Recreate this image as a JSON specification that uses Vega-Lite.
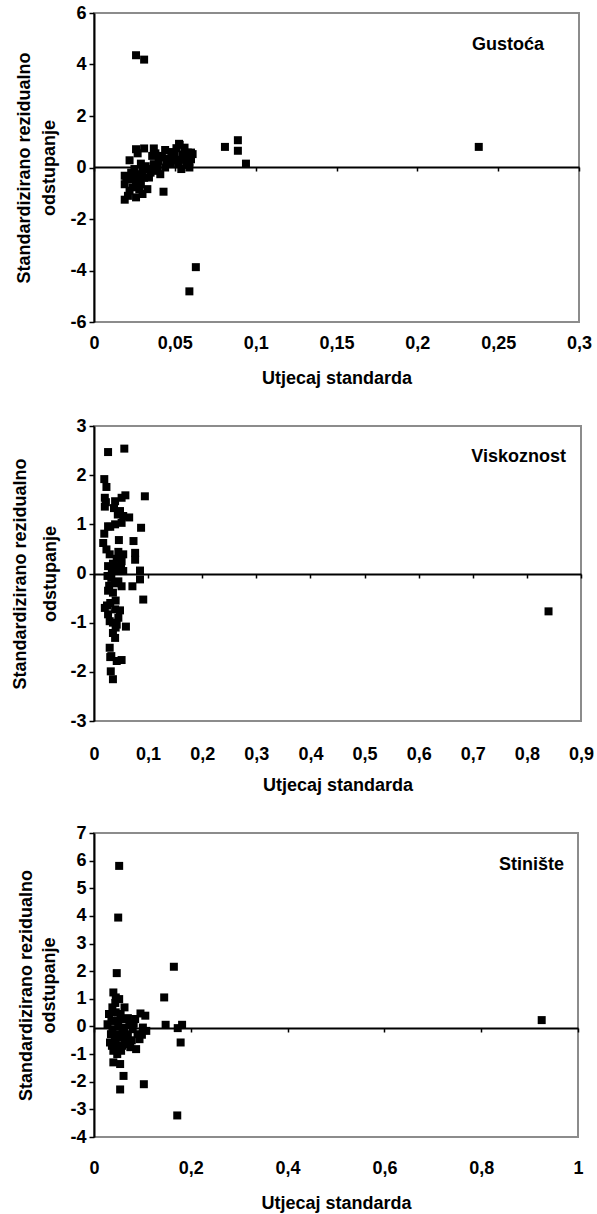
{
  "$schema": "https://vega.github.io/schema/vega-lite/v6.json",
  "background": "white",
  "padding": {"left": 10, "top": 3, "right": 2, "bottom": 2},
  "columns": 1,
  "align": "none",
  "spacing": 28,
  "config": {
    "locale": {"number": {"decimal": ",", "thousands": ".", "grouping": [3], "currency": ["", " €"], "minus": "-"}},
    "font": "Liberation Sans",
    "view": {"stroke": "#8c8c8c", "strokeWidth": 2},
    "axis": {
      "grid": false,
      "labelFont": "Liberation Sans", "labelFontWeight": "bold", "labelFontSize": 18, "labelColor": "black",
      "titleFont": "Liberation Sans", "titleFontWeight": "bold", "titleFontSize": 18, "titleColor": "black",
      "domainColor": "black", "domainWidth": 2, "tickColor": "black", "tickWidth": 1.5,
      "format": "~g", "labelFlush": false, "labelOverlap": false
    },
    "title": {"font": "Liberation Sans", "fontWeight": "bold", "fontSize": 18, "color": "black", "anchor": "end", "frame": "group"},
    "point": {"shape": "square", "filled": true, "color": "black", "size": 64, "opacity": 1}
  },
  "datasets": {
    "gustoca": [
      {"u": 0.026, "r": 4.36}, {"u": 0.031, "r": 4.19}, {"u": 0.081, "r": 0.8}, {"u": 0.089, "r": 1.06},
      {"u": 0.089, "r": 0.65}, {"u": 0.094, "r": 0.15}, {"u": 0.063, "r": -3.87}, {"u": 0.059, "r": -4.81},
      {"u": 0.043, "r": -0.94}, {"u": 0.019, "r": -1.25}, {"u": 0.238, "r": 0.8},
      {"u": 0.022, "r": 0.28}, {"u": 0.026, "r": 0.71}, {"u": 0.031, "r": 0.74}, {"u": 0.037, "r": 0.74},
      {"u": 0.044, "r": 0.68}, {"u": 0.053, "r": 0.88}, {"u": 0.056, "r": 0.77}, {"u": 0.06, "r": 0.58},
      {"u": 0.06, "r": 0.32}, {"u": 0.059, "r": 0.0}, {"u": 0.054, "r": -0.06}, {"u": 0.048, "r": 0.45},
      {"u": 0.05, "r": 0.28}, {"u": 0.047, "r": 0.13}, {"u": 0.044, "r": 0.0}, {"u": 0.04, "r": 0.26},
      {"u": 0.036, "r": 0.45}, {"u": 0.037, "r": 0.13}, {"u": 0.033, "r": -0.06}, {"u": 0.034, "r": -0.39},
      {"u": 0.03, "r": -0.13}, {"u": 0.027, "r": -0.26}, {"u": 0.026, "r": -0.58}, {"u": 0.024, "r": -0.77},
      {"u": 0.019, "r": -0.32}, {"u": 0.019, "r": -0.65}, {"u": 0.021, "r": -1.1}, {"u": 0.026, "r": -1.16},
      {"u": 0.03, "r": -1.03}, {"u": 0.033, "r": -0.84}, {"u": 0.037, "r": -0.13}, {"u": 0.039, "r": 0.0},
      {"u": 0.041, "r": -0.26}, {"u": 0.028, "r": -0.52}, {"u": 0.023, "r": -0.45}, {"u": 0.025, "r": -0.06},
      {"u": 0.029, "r": 0.15}, {"u": 0.042, "r": 0.39}, {"u": 0.05, "r": 0.49}, {"u": 0.052, "r": 0.13},
      {"u": 0.056, "r": 0.39}, {"u": 0.058, "r": 0.58}, {"u": 0.061, "r": 0.52}, {"u": 0.02, "r": -0.45},
      {"u": 0.022, "r": -0.9}, {"u": 0.025, "r": -0.35}, {"u": 0.028, "r": -0.85}, {"u": 0.031, "r": -0.4},
      {"u": 0.035, "r": -0.2}, {"u": 0.045, "r": 0.2}, {"u": 0.048, "r": 0.6}, {"u": 0.055, "r": 0.5},
      {"u": 0.057, "r": 0.1}, {"u": 0.051, "r": 0.75}, {"u": 0.046, "r": 0.35}, {"u": 0.032, "r": 0.05},
      {"u": 0.027, "r": 0.55}, {"u": 0.038, "r": 0.55}, {"u": 0.041, "r": 0.45}, {"u": 0.053, "r": 0.3},
      {"u": 0.059, "r": 0.2}, {"u": 0.023, "r": -0.2}, {"u": 0.029, "r": -0.65}, {"u": 0.0526, "r": 0.92}
    ],
    "viskoznost": [
      {"u": 0.026, "r": 2.47}, {"u": 0.056, "r": 2.54}, {"u": 0.019, "r": 1.92}, {"u": 0.023, "r": 1.76},
      {"u": 0.02, "r": 1.54}, {"u": 0.02, "r": 1.36}, {"u": 0.094, "r": 1.57}, {"u": 0.058, "r": 1.59},
      {"u": 0.051, "r": 1.54}, {"u": 0.039, "r": 1.47}, {"u": 0.037, "r": 1.33}, {"u": 0.048, "r": 1.27},
      {"u": 0.054, "r": 1.17}, {"u": 0.065, "r": 1.14}, {"u": 0.051, "r": 1.03}, {"u": 0.039, "r": 1.0},
      {"u": 0.026, "r": 0.96}, {"u": 0.019, "r": 0.81}, {"u": 0.087, "r": 0.93}, {"u": 0.046, "r": 0.68},
      {"u": 0.073, "r": 0.66}, {"u": 0.017, "r": 0.62}, {"u": 0.023, "r": 0.49}, {"u": 0.029, "r": 0.39},
      {"u": 0.045, "r": 0.44}, {"u": 0.054, "r": 0.39}, {"u": 0.076, "r": 0.42}, {"u": 0.076, "r": 0.28},
      {"u": 0.051, "r": 0.25}, {"u": 0.026, "r": 0.15}, {"u": 0.039, "r": 0.15}, {"u": 0.054, "r": 0.05},
      {"u": 0.085, "r": 0.06}, {"u": 0.085, "r": -0.12}, {"u": 0.032, "r": -0.09}, {"u": 0.045, "r": -0.16},
      {"u": 0.051, "r": -0.26}, {"u": 0.071, "r": -0.26}, {"u": 0.026, "r": -0.35}, {"u": 0.035, "r": -0.39},
      {"u": 0.091, "r": -0.53}, {"u": 0.02, "r": -0.7}, {"u": 0.039, "r": -0.73}, {"u": 0.048, "r": -0.75},
      {"u": 0.026, "r": -0.83}, {"u": 0.029, "r": -0.97}, {"u": 0.042, "r": -1.04}, {"u": 0.035, "r": -1.21},
      {"u": 0.039, "r": -1.31}, {"u": 0.059, "r": -1.08}, {"u": 0.029, "r": -1.51}, {"u": 0.032, "r": -1.68},
      {"u": 0.042, "r": -1.78}, {"u": 0.051, "r": -1.76}, {"u": 0.031, "r": -1.99}, {"u": 0.035, "r": -2.15},
      {"u": 0.84, "r": -0.77}, {"u": 0.03, "r": -0.6}, {"u": 0.04, "r": -0.55}, {"u": 0.035, "r": 0.2},
      {"u": 0.045, "r": 0.05}, {"u": 0.025, "r": -0.05}, {"u": 0.05, "r": 0.3}, {"u": 0.04, "r": -1.1},
      {"u": 0.035, "r": -1.0}, {"u": 0.03, "r": -1.7}, {"u": 0.045, "r": -0.9}, {"u": 0.03, "r": 0.95},
      {"u": 0.022, "r": 1.45}, {"u": 0.042, "r": 0.3}, {"u": 0.033, "r": 0.05}, {"u": 0.028, "r": -0.25},
      {"u": 0.038, "r": -0.2}, {"u": 0.024, "r": -0.65}, {"u": 0.044, "r": 1.2}, {"u": 0.05, "r": 0.12}
    ],
    "stiniste": [
      {"u": 0.052, "r": 5.81}, {"u": 0.05, "r": 3.94}, {"u": 0.047, "r": 1.93}, {"u": 0.165, "r": 2.16},
      {"u": 0.145, "r": 1.05}, {"u": 0.148, "r": 0.06}, {"u": 0.173, "r": -0.06}, {"u": 0.182, "r": 0.06},
      {"u": 0.179, "r": -0.58}, {"u": 0.172, "r": -3.22}, {"u": 0.103, "r": -2.09}, {"u": 0.061, "r": -1.79},
      {"u": 0.054, "r": -2.28}, {"u": 0.04, "r": -1.3}, {"u": 0.054, "r": -1.36}, {"u": 0.925, "r": 0.23},
      {"u": 0.04, "r": 1.23}, {"u": 0.045, "r": 1.05}, {"u": 0.052, "r": 0.99}, {"u": 0.063, "r": 0.69},
      {"u": 0.031, "r": 0.45}, {"u": 0.028, "r": 0.08}, {"u": 0.035, "r": -0.28}, {"u": 0.033, "r": -0.58},
      {"u": 0.04, "r": -0.88}, {"u": 0.045, "r": -0.52}, {"u": 0.056, "r": -0.88}, {"u": 0.066, "r": 0.27},
      {"u": 0.07, "r": -0.28}, {"u": 0.073, "r": -0.58}, {"u": 0.087, "r": -0.82}, {"u": 0.085, "r": 0.27},
      {"u": 0.096, "r": 0.47}, {"u": 0.106, "r": 0.39}, {"u": 0.101, "r": -0.04}, {"u": 0.108, "r": -0.16},
      {"u": 0.094, "r": -0.46}, {"u": 0.08, "r": -0.1}, {"u": 0.049, "r": 0.21}, {"u": 0.059, "r": -0.04},
      {"u": 0.047, "r": -0.76}, {"u": 0.063, "r": -0.64}, {"u": 0.049, "r": -0.28}, {"u": 0.056, "r": -0.4},
      {"u": 0.042, "r": 0.21}, {"u": 0.038, "r": 0.69}, {"u": 0.045, "r": 0.51}, {"u": 0.059, "r": 0.27},
      {"u": 0.073, "r": 0.08}, {"u": 0.09, "r": -0.28}, {"u": 0.07, "r": 0.3}, {"u": 0.036, "r": 0.2},
      {"u": 0.038, "r": -0.1}, {"u": 0.043, "r": -0.35}, {"u": 0.05, "r": 0.0}, {"u": 0.055, "r": 0.45},
      {"u": 0.062, "r": -0.2}, {"u": 0.066, "r": -0.45}, {"u": 0.078, "r": -0.5}, {"u": 0.082, "r": 0.1},
      {"u": 0.044, "r": 0.85}, {"u": 0.058, "r": -0.7}, {"u": 0.037, "r": -0.7}, {"u": 0.048, "r": -1.0},
      {"u": 0.099, "r": -0.3}, {"u": 0.075, "r": -0.75}
    ]
  },
  "concat": [
    {
      "width": 485, "height": 309,
      "data": {"name": "gustoca"},
      "title": {"text": "Gustoća", "offset": -50, "dx": -35},
      "mark": {"type": "point"},
      "encoding": {
        "x": {"field": "u", "type": "quantitative",
          "scale": {"domain": [0, 0.3], "nice": false, "zero": false},
          "axis": {"values": [0, 0.05, 0.1, 0.15, 0.2, 0.25, 0.3], "offset": -155, "tickSize": 4, "labelPadding": 163, "title": "Utjecaj standarda", "titlePadding": 17}},
        "y": {"field": "r", "type": "quantitative",
          "scale": {"domain": [-6, 6], "nice": false, "zero": false},
          "axis": {"values": [-6, -4, -2, 0, 2, 4, 6], "title": ["Standardizirano rezidualno", "odstupanje"], "tickSize": 5, "labelPadding": 3, "titlePadding": 11, "titleLineHeight": 25}}
      }
    },
    {
      "width": 487, "height": 295,
      "data": {"name": "viskoznost"},
      "title": {"text": "Viskoznost", "offset": -49, "dx": -15},
      "mark": {"type": "point"},
      "encoding": {
        "x": {"field": "u", "type": "quantitative",
          "scale": {"domain": [0, 0.9], "nice": false, "zero": false},
          "axis": {"values": [0, 0.1, 0.2, 0.3, 0.4, 0.5, 0.6, 0.7, 0.8, 0.9], "offset": -147, "tickSize": 4, "labelPadding": 167, "title": "Utjecaj standarda", "titlePadding": 13}},
        "y": {"field": "r", "type": "quantitative",
          "scale": {"domain": [-3, 3], "nice": false, "zero": false},
          "axis": {"values": [-3, -2, -1, 0, 1, 2, 3], "title": ["Standardizirano rezidualno", "odstupanje"], "tickSize": 5, "labelPadding": 3, "titlePadding": 10, "titleLineHeight": 30}}
      }
    },
    {
      "width": 484, "height": 304,
      "data": {"name": "stiniste"},
      "title": {"text": "Stinište", "offset": -50, "dx": -14},
      "mark": {"type": "point"},
      "encoding": {
        "x": {"field": "u", "type": "quantitative",
          "scale": {"domain": [0, 1], "nice": false, "zero": false},
          "axis": {"values": [0, 0.2, 0.4, 0.6, 0.8, 1], "offset": -109, "tickSize": 4, "labelPadding": 127, "title": "Utjecaj standarda", "titlePadding": 17}},
        "y": {"field": "r", "type": "quantitative",
          "scale": {"domain": [-4, 7], "nice": false, "zero": false},
          "axis": {"values": [-4, -3, -2, -1, 0, 1, 2, 3, 4, 5, 6, 7], "title": ["Standardizirano rezidualno", "odstupanje"], "tickSize": 5, "labelPadding": 3, "titlePadding": 11, "titleLineHeight": 23}}
      }
    }
  ]
}
